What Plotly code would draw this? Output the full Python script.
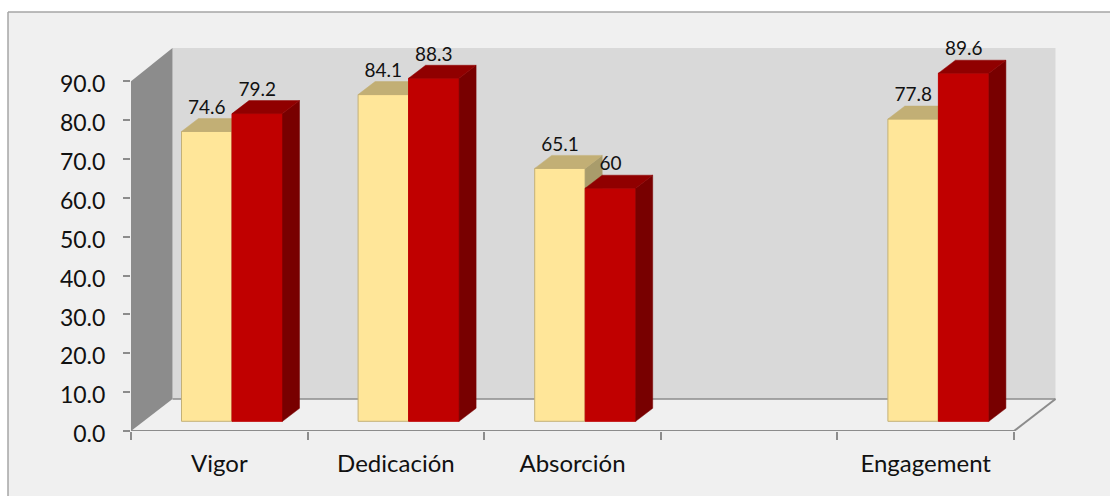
import plotly.graph_objects as go

categories = ["Vigor", "Dedicación", "Absorción", "", "Engagement"]
serie_a = [74.6, 84.1, 65.1, None, 77.8]
serie_b = [79.2, 88.3, 60, None, 89.6]
value_ticks = [0, 10, 20, 30, 40, 50, 60, 70, 80, 90]

W, H = 1110, 496
L, R, T, B = 131, 1058, 48, 431          # plot area in page pixels
UX = 176.6                               # px per category
UY = 3.885                               # px per value unit
xmax = (R - L) / UX
ymax = (B - T) / UY

wall_dx, wall_dy = 41.5 / UX, 32 / UY    # floor depth
bar_dx, bar_dy = 17 / UX, 13 / UY        # bar depth
bar_w = 50.5 / UX
bar_shift = 12.7 / UX
bar_base = 9.7 / UY

GREY = "#8C8C8C"
FONT = "Lato"
TXT = "#111111"


def faces(values, x_off):
    top_x, top_y, side_x, side_y = [], [], [], []
    for i, v in enumerate(values):
        if v is None:
            continue
        x0 = i + 0.5 + bar_shift + x_off - bar_w / 2
        x1 = x0 + bar_w
        t = v + bar_base
        top_x += [x0, x1, x1 + bar_dx, x0 + bar_dx, x0, None]
        top_y += [t, t, t + bar_dy, t + bar_dy, t, None]
        side_x += [x1, x1, x1 + bar_dx, x1 + bar_dx, x1, None]
        side_y += [bar_base, t, t + bar_dy, bar_base + bar_dy, bar_base, None]
    return top_x, top_y, side_x, side_y


def series(values, x_off, front, edge, top, side, xa, ya):
    xs = [i + 0.5 + bar_shift + x_off for i, v in enumerate(values) if v is not None]
    ys = [v for v in values if v is not None]
    tx, ty, sx, sy = faces(values, x_off)
    return [
        go.Bar(x=xs, y=ys, base=bar_base, width=bar_w, xaxis=xa, yaxis=ya,
               marker=dict(color=front, line=dict(color=edge, width=1)), hoverinfo="skip"),
        go.Scatter(x=sx, y=sy, mode="lines", fill="toself", fillcolor=side, xaxis=xa, yaxis=ya,
                   line=dict(color=side, width=0.5), hoverinfo="skip"),
        go.Scatter(x=tx, y=ty, mode="lines", fill="toself", fillcolor=top, xaxis=xa, yaxis=ya,
                   line=dict(color=top, width=0.5), hoverinfo="skip"),
    ]


def labels(values, x_off, xa, ya):
    xs = [i + 0.5 + bar_shift + x_off for i, v in enumerate(values) if v is not None]
    ys = [v + bar_base + bar_dy for v in values if v is not None]
    txt = [str(v) for v in values if v is not None]
    return go.Scatter(x=xs, y=ys, text=txt, mode="text", textposition="top center",
                      textfont=dict(family=FONT, size=19, color=TXT), xaxis=xa, yaxis=ya,
                      cliponaxis=False, hoverinfo="skip")


fig = go.Figure()
fig.add_traces(series(serie_a, -bar_w / 2, "#FFE699", "#C4B177", "#C2AF75", "#A99C6B", "x", "y"))
fig.add_traces(series(serie_b, bar_w / 2, "#C00000", "#C00000", "#900000", "#780000", "x2", "y2"))
fig.add_trace(labels(serie_a, -bar_w / 2, "x2", "y2"))
fig.add_trace(labels(serie_b, bar_w / 2, "x2", "y2"))

n = len(categories)
def px(x): return (x - L) / (R - L)
def py(y): return (B - y) / (B - T)

BORDER = dict(color="#A6A6A6", width=1.5)
shapes = [
    dict(type="rect", xref="paper", yref="paper", x0=px(8), x1=px(W), y0=py(12), y1=py(H),
         fillcolor="#F0F0F0", line=dict(width=0), layer="below"),
    dict(type="line", xref="paper", yref="paper", x0=px(8), x1=px(W), y0=py(12), y1=py(12),
         line=BORDER, layer="below"),
    dict(type="line", xref="paper", yref="paper", x0=px(8), x1=px(8), y0=py(12), y1=py(H),
         line=BORDER, layer="below"),
    dict(type="rect", x0=wall_dx, x1=n + wall_dx, y0=wall_dy, y1=ymax, xref="x", yref="y",
         fillcolor="#D9D9D9", line=dict(width=0), layer="below"),
    dict(type="path", xref="x", yref="y", layer="below", fillcolor=GREY, line=dict(width=0),
         path=f"M0,0 L{wall_dx},{wall_dy} L{wall_dx},{ymax} L0,{value_ticks[-1]} Z"),
    dict(type="line", xref="x", yref="y", x0=wall_dx, x1=n + wall_dx, y0=wall_dy, y1=wall_dy,
         line=dict(color=GREY, width=1.5), layer="below"),
    dict(type="line", xref="x", yref="y", x0=0, x1=n, y0=0, y1=0,
         line=dict(color=GREY, width=2), layer="below"),
    dict(type="line", xref="x", yref="y", x0=n, x1=n + wall_dx, y0=0, y1=wall_dy,
         line=dict(color=GREY, width=2), layer="below"),
]

fig.update_layout(
    width=W, height=H, autosize=False,
    margin=dict(l=L, r=W - R, t=T, b=H - B, pad=0),
    paper_bgcolor="white", plot_bgcolor="rgba(0,0,0,0)",
    showlegend=False, barmode="overlay", shapes=shapes,
    xaxis=dict(range=[0, xmax], tickmode="array", tickvals=[i + 0.5 for i in range(n)],
               ticktext=categories, ticks="", ticklabelstandoff=16, showgrid=False, zeroline=False,
               showline=False, tickfont=dict(family=FONT, size=24, color=TXT),
               minor=dict(tickmode="array", tickvals=list(range(n + 1)), ticks="outside",
                          ticklen=8, tickcolor=GREY, tickwidth=1.5, showgrid=False)),
    yaxis=dict(range=[0, ymax], tickmode="array", tickvals=value_ticks, tickformat=".1f",
               ticks="outside", ticklen=7, tickcolor=GREY, tickwidth=1.5, showgrid=False,
               zeroline=False, showline=False, ticklabelstandoff=13, ticklabelshift=3,
               tickfont=dict(family=FONT, size=23, color=TXT)),
    xaxis2=dict(range=[0, xmax], overlaying="x", visible=False),
    yaxis2=dict(range=[0, ymax], overlaying="y", visible=False),
)

fig.write_html("out.html", config={"displayModeBar": False},
               post_script="document.body.style.margin='0';document.body.style.overflow='hidden';")
